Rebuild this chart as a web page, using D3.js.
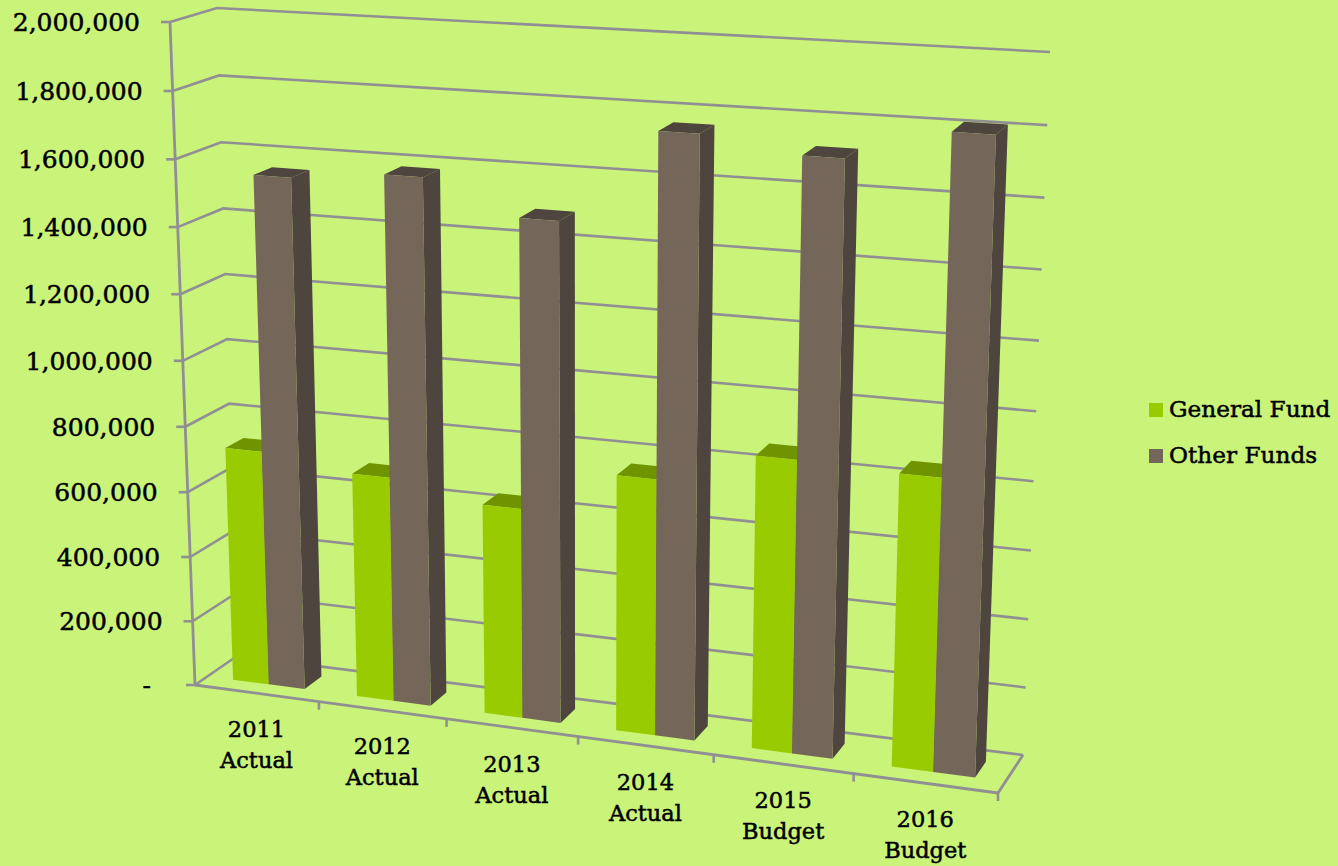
<!DOCTYPE html>
<html>
<head>
    <title>General Fund and Other Funds</title>
    <style>
        html, body { margin: 0; padding: 0; background: #caf379; overflow: hidden; }
        text { font-family: "DejaVu Serif", serif; fill: #000; stroke: #000; stroke-width: 0.5px; }
    </style>
    <script src="https://d3js.org/d3.v7.min.js"></script>
</head>
<body>
    <div id="chart"></div>
    <script>
        // values
        var categories = ["2011", "2012", "2013", "2014", "2015", "2016"];
        var categoryNotes = ["Actual", "Actual", "Actual", "Actual", "Budget", "Budget"];
        var seriesNames = ["General Fund", "Other Funds"];
        var generalFund = [722000, 684000, 633000, 763000, 862000, 852000];
        var otherFunds = [1553000, 1583000, 1487000, 1763000, 1722000, 1815000];
        var valueTicks = [0, 200000, 400000, 600000, 800000, 1000000, 1200000, 1400000, 1600000, 1800000, 2000000];

        var frontColors = ["#99cc00", "#74675a"];
        var sideColors = ["#6f9400", "#4d453e"];
        var topColors = ["#6f9400", "#4d453e"];
        var gridColor = "#8f8f94";

        var width = 1338, height = 866;

        var svg = d3.select("#chart").append("svg")
            .attr("width", width)
            .attr("height", height);

        // corners of the plot box as seen on screen
        var box = {
            frontBottomLeft: [195, 685], frontBottomRight: [998, 793],
            frontTopLeft: [170, 22], frontTopRight: [1022, 75],
            backBottomLeft: [237, 656], backBottomRight: [1023, 755],
            backTopLeft: [217, 8], backTopRight: [1050, 52]
        };

        // foreshortening: things get bigger to the right and toward the top
        function warp(t, r) { return t / (t + r * (1 - t)); }

        var x0 = d3.scaleBand().domain(categories).range([0, 1]);
        var x1 = d3.scaleBand().domain(seriesNames).range([0, x0.bandwidth()]).paddingInner(0).paddingOuter(0.72);
        var y = d3.scaleLinear().domain([0, 2000000]).range([0, 1]);
        var depth = d3.scaleLinear().domain([0, 1]).range([0.3, 0.72]);

        function mix(a, b, t) { return [a[0] + (b[0] - a[0]) * t, a[1] + (b[1] - a[1]) * t]; }

        // u across the categories, v up the values, w from front wall to back wall
        function project(u, v, w) {
            var tu = warp(u, 1.096), tv = warp(v, 1.045);
            var front = mix(mix(box.frontBottomLeft, box.frontBottomRight, tu), mix(box.frontTopLeft, box.frontTopRight, tu), tv);
            var back = mix(mix(box.backBottomLeft, box.backBottomRight, tu), mix(box.backTopLeft, box.backTopRight, tu), tv);
            return mix(front, back, w);
        }

        var line = d3.line();

        // gridlines on the left and back walls
        svg.append("g").selectAll("path")
            .data(valueTicks)
            .enter()
            .append("path")
            .attr("d", function(d) {
                return line([project(0, y(d), 0), project(0, y(d), 1), project(1, y(d), 1)]);
            })
            .attr("fill", "none")
            .attr("stroke", gridColor)
            .attr("stroke-width", 2.6);

        // axis frame
        var axisPaths = [
            [project(0, 0, 0), project(0, 1, 0)],
            [project(0, 0, 0), project(1, 0, 0)],
            [project(1, 0, 0), project(1, 0, 1)]
        ];
        svg.append("g").selectAll("path")
            .data(axisPaths)
            .enter()
            .append("path")
            .attr("d", line)
            .attr("fill", "none")
            .attr("stroke", gridColor)
            .attr("stroke-width", 2.8);

        // value ticks and labels
        var valueGroup = svg.append("g");
        valueTicks.forEach(function(d) {
            var p = project(0, y(d), 0);
            valueGroup.append("line")
                .attr("x1", p[0] - 9).attr("x2", p[0])
                .attr("y1", p[1]).attr("y2", p[1])
                .attr("stroke", gridColor)
                .attr("stroke-width", 2.6);
            valueGroup.append("text")
                .attr("x", p[0] - (d === 0 ? 44 : 30))
                .attr("y", p[1])
                .attr("dy", "0.36em")
                .attr("text-anchor", "end")
                .style("font-size", "25px")
                .text(d === 0 ? "-" : d3.format(",")(d));
        });

        // category ticks and labels
        var catGroup = svg.append("g");
        d3.range(1, categories.length + 1).forEach(function(i) {
            var p = project(i / categories.length, 0, 0);
            catGroup.append("line")
                .attr("x1", p[0]).attr("x2", p[0])
                .attr("y1", p[1]).attr("y2", p[1] + 8)
                .attr("stroke", gridColor)
                .attr("stroke-width", 2.6);
        });
        categories.forEach(function(c, i) {
            var p = project(x0(c) + x0.bandwidth() / 2, 0, 0);
            var label = catGroup.append("text")
                .attr("text-anchor", "middle")
                .style("font-size", "22.5px");
            label.append("tspan").attr("x", p[0]).attr("y", p[1] + 44).text(c);
            label.append("tspan").attr("x", p[0]).attr("y", p[1] + 75).text(categoryNotes[i]);
        });

        // bars, left to right so nearer ones cover the ones behind
        var barGroup = svg.append("g");
        categories.forEach(function(c, i) {
            [generalFund, otherFunds].forEach(function(values, s) {
                var u0 = x0(c) + x1(seriesNames[s]);
                var u1 = u0 + x1.bandwidth();
                var v = y(values[i]);
                var wf = depth(0), wb = depth(1);
                var faces = [
                    { pts: [project(u0, v, wf), project(u1, v, wf), project(u1, v, wb), project(u0, v, wb)], fill: topColors[s] },
                    { pts: [project(u1, 0, wf), project(u1, 0, wb), project(u1, v, wb), project(u1, v, wf)], fill: sideColors[s] },
                    { pts: [project(u0, 0, wf), project(u1, 0, wf), project(u1, v, wf), project(u0, v, wf)], fill: frontColors[s] }
                ];
                faces.forEach(function(f) {
                    barGroup.append("path")
                        .attr("d", line(f.pts) + "Z")
                        .attr("fill", f.fill);
                });
            });
        });

        // legend
        var legend = svg.append("g");
        seriesNames.forEach(function(name, i) {
            var top = 403 + i * 46;
            legend.append("rect")
                .attr("x", 1149).attr("y", top)
                .attr("width", 14).attr("height", 14)
                .attr("fill", frontColors[i]);
            legend.append("text")
                .attr("x", 1169).attr("y", top + 6)
                .attr("dy", "0.36em")
                .style("font-size", "23.2px")
                .text(name);
        });
    </script>
</body>
</html>
